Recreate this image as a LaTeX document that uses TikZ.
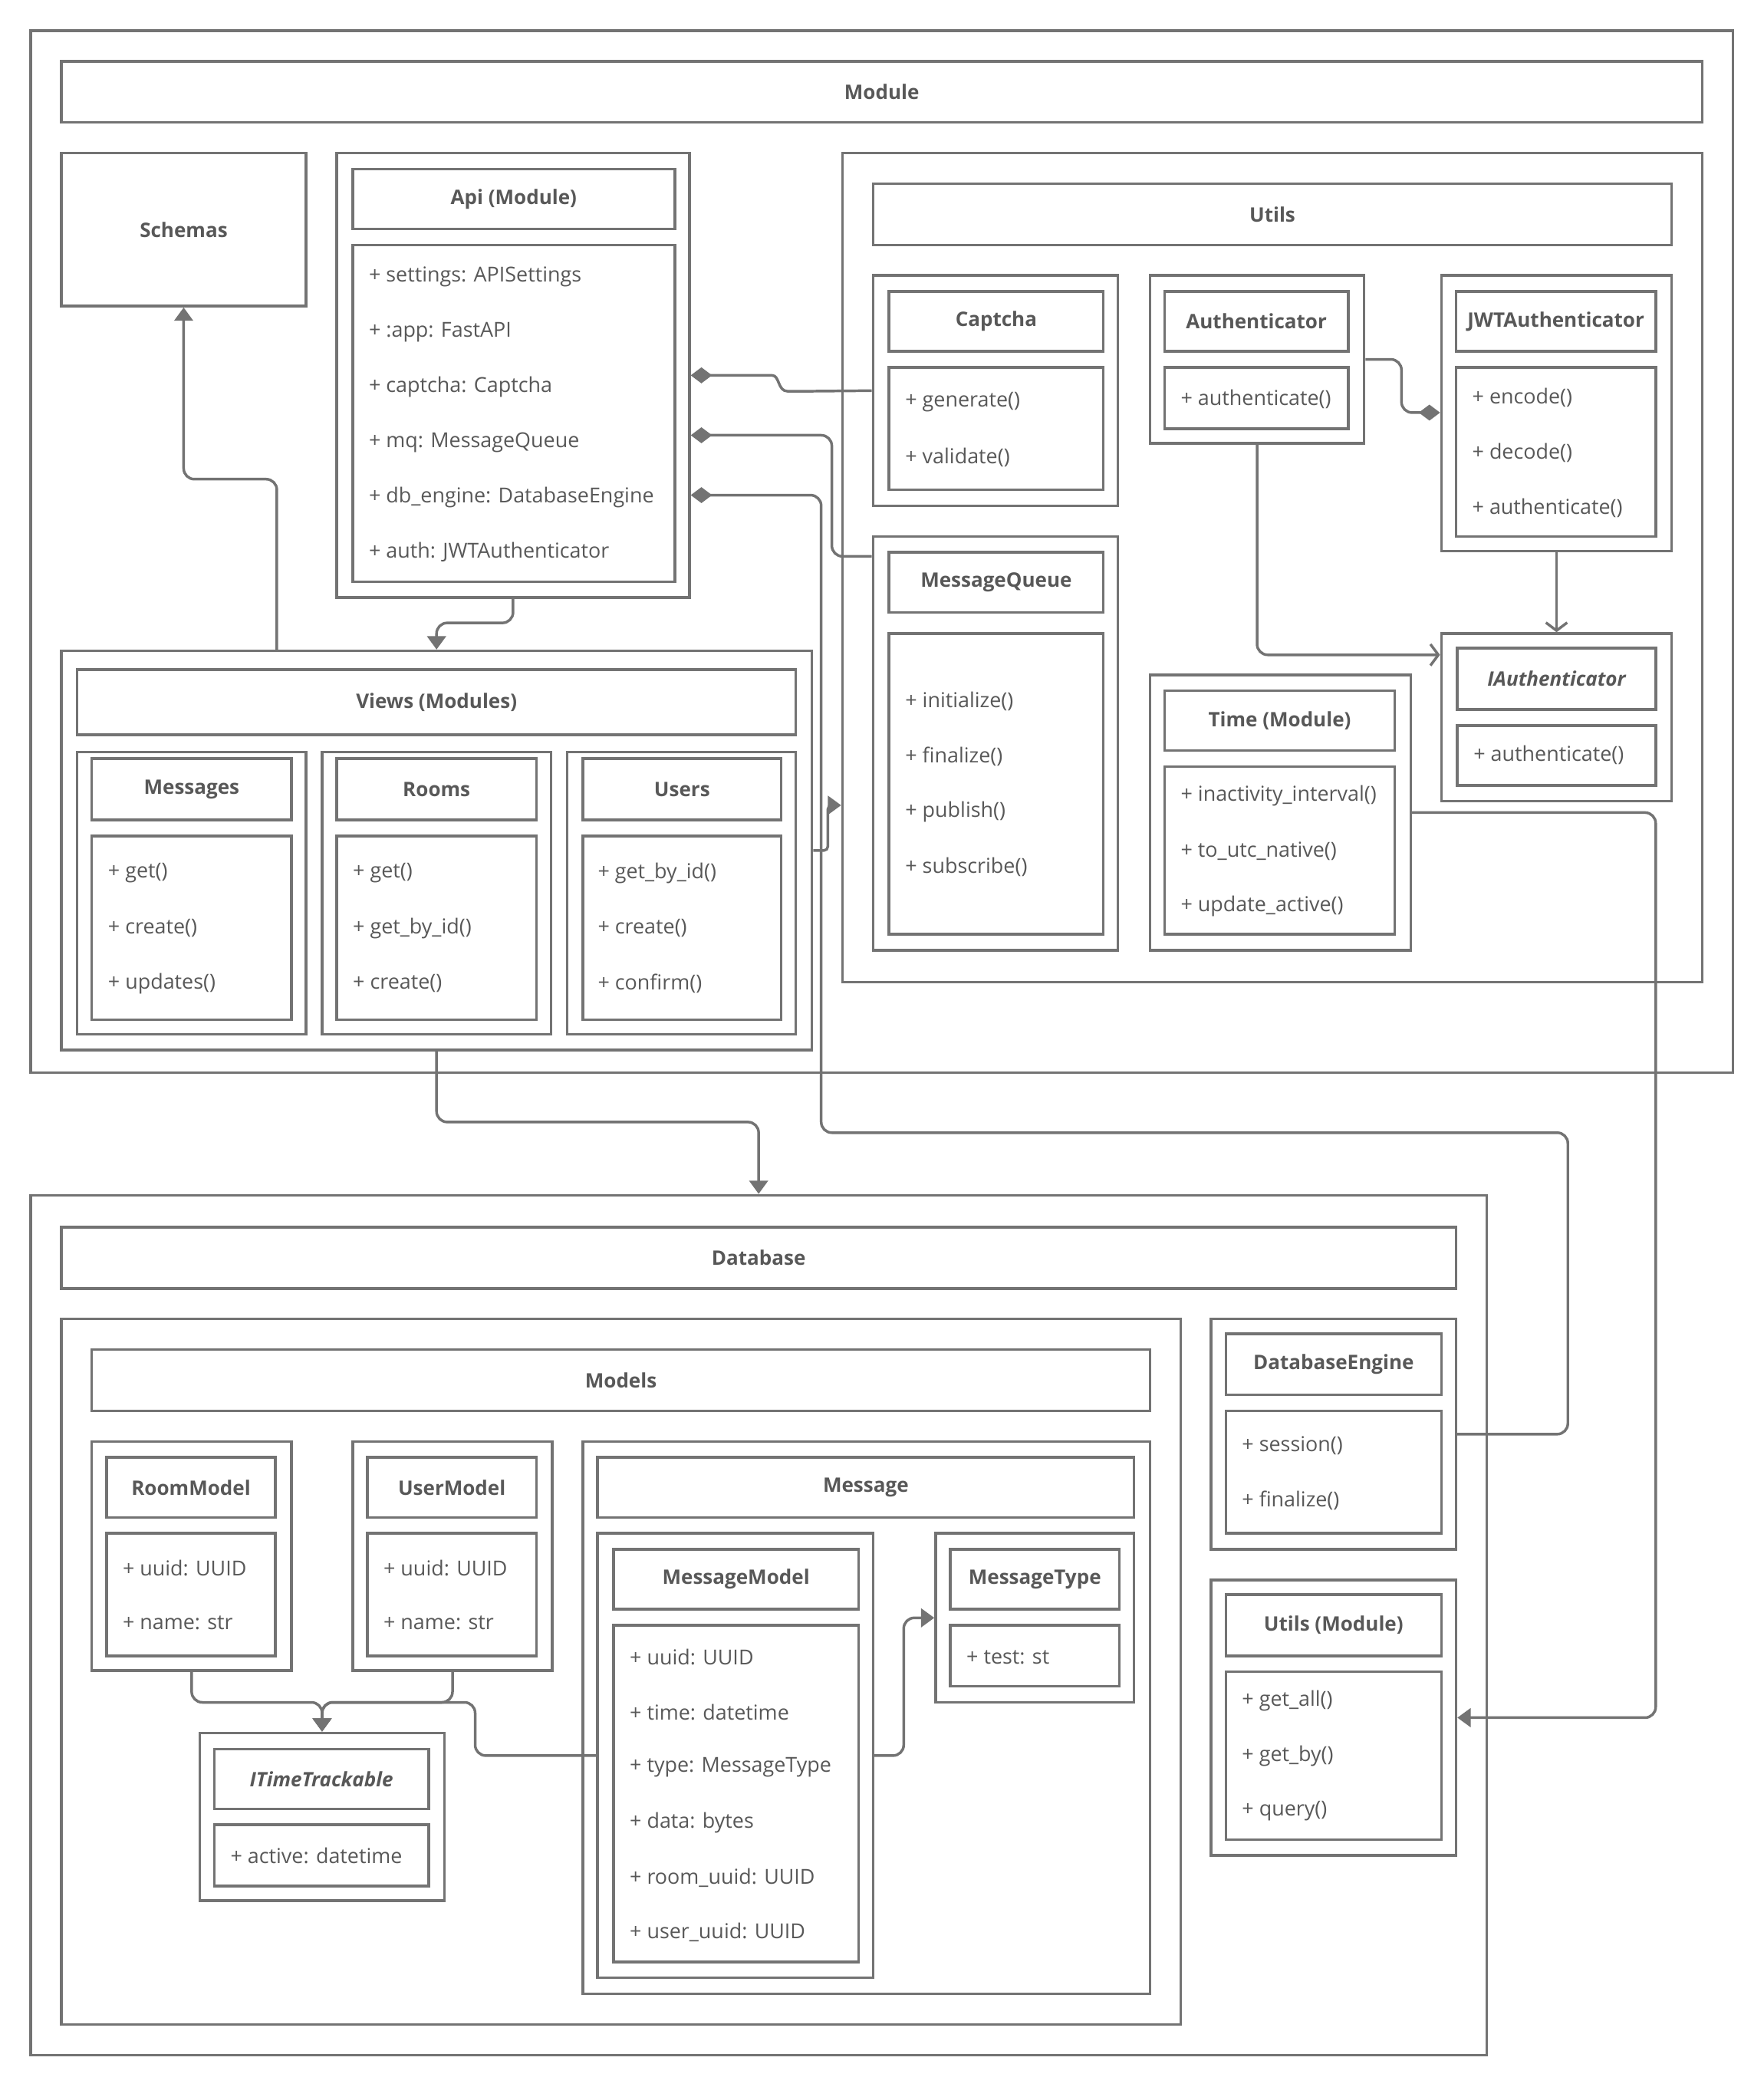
\documentclass[tikz,border=0pt]{standalone}
\usepackage{fontspec}
\setmainfont{Open Sans}
\usetikzlibrary{arrows.meta,fit,calc}
\definecolor{umlGray}{RGB}{115,115,115}
\definecolor{umlText}{RGB}{88,88,88}
\tikzset{
  frameBox/.style={draw=umlGray,line width=2pt,inner sep=0pt,fit={#1}},
  titleText/.style={font=\bfseries,text=umlText,inner sep=0pt},
  memberText/.style={anchor=west,inner sep=0pt,text=umlText,font=\fontsize{15.5}{18}\selectfont},
  umlLink/.style={draw=umlGray,line width=2pt,rounded corners=8pt},
  depArrow/.style={umlLink,-{Triangle[length=10pt,width=14pt]}},
  implArrow/.style={umlLink,-{Straight Barb[length=6pt,width=16pt,line width=2pt]}},
  compStart/.style={umlLink,{Diamond[length=16pt,width=12pt]}-},
  compEnd/.style={umlLink,-{Diamond[length=16pt,width=12pt]}},
}

\begin{document}
\fontsize{15}{18}\selectfont
\begin{tikzpicture}[x=1pt,y=-1pt]
  \useasboundingbox (0,0) rectangle (1325,1568);
  % Module
  \node[frameBox={(23,23) (1302,806)}](module){};
  \node[frameBox={(46,46) (1279,92)}](moduleT){};
  \node[frameBox={(46,115) (230,230)}](schemas){};
  % Api
  \node[frameBox={(253,115) (518,449)}](api){};
  \node[frameBox={(265,127) (507,172)}](apiT){};
  \node[frameBox={(265,184) (507,437)}](apiM){};
  \foreach \t [count=\i] in {+ settings: APISettings,+ :app: FastAPI,+ captcha: Captcha,
      + mq: MessageQueue,+ db\_engine: DatabaseEngine,+ auth: JWTAuthenticator}
    \node[memberText](apiM\i) at (277,{166.6+41.4*\i}){\t};
  % Utils
  \node[frameBox={(633,115) (1279,738)}](utils){};
  \node[frameBox={(656,138) (1256,184)}](utilsT){};
  \node[frameBox={(656,207) (840,380)}](captcha){};
  \node[frameBox={(668,219) (829,264)}](captchaT){};
  \node[frameBox={(668,276) (829,368)}](captchaM){};
  \foreach \t [count=\i] in {+ generate(),+ validate()}
    \node[memberText](captchaM\i) at (680,{260.6+41.4*\i}){\t};
  \node[frameBox={(656,403) (840,714)}](mq){};
  \node[frameBox={(668,415) (829,460)}](mqT){};
  \node[frameBox={(668,476) (829,702)}](mqM){};
  \foreach \t [count=\i] in {+ initialize(),+ finalize(),+ publish(),+ subscribe()}
    \node[memberText](mqM\i) at (680,{485.6+41.4*\i}){\t};
  \node[frameBox={(864,207) (1025,333)}](auth){};
  \node[frameBox={(875,219) (1013,264)}](authT){};
  \node[frameBox={(875,276) (1013,322)}](authM){};
  \node[memberText](authM1) at (887,300){+ authenticate()};
  \node[frameBox={(1083,207) (1256,414)}](jwt){};
  \node[frameBox={(1094,219) (1244,264)}](jwtT){};
  \node[frameBox={(1094,276) (1244,403)}](jwtM){};
  \foreach \t [count=\i] in {+ encode(),+ decode(),+ authenticate()}
    \node[memberText](jwtM\i) at (1106,{257.6+41.4*\i}){\t};
  \node[frameBox={(1083,476) (1256,602)}](iauth){};
  \node[frameBox={(1095,487) (1244,533)}](iauthT){};
  \node[frameBox={(1095,545) (1244,590)}](iauthM){};
  \node[memberText](iauthM1) at (1107,567){+ authenticate()};
  \node[frameBox={(864,507) (1060,714)}](time){};
  \node[frameBox={(875,519) (1048,564)}](timeT){};
  \node[frameBox={(875,576) (1048,702)}](timeM){};
  \foreach \t [count=\i] in {+ inactivity\_interval(),+ to\_utc\_native(),+ update\_active()}
    \node[memberText](timeM\i) at (887,{556.6+41.4*\i}){\t};
  % Views
  \node[frameBox={(46,489) (610,789)}](views){};
  \node[frameBox={(58,503) (598,552)}](viewsT){};
  \node[frameBox={(58,565) (230,777)}](messages){};
  \node[frameBox={(69,570) (219,616)}](messagesT){};
  \node[frameBox={(69,628) (219,766)}](messagesM){};
  \foreach \t [count=\i] in {+ get(),+ create(),+ updates()}
    \node[memberText](messagesM\i) at (81,{614.6+41.4*\i}){\t};
  \node[frameBox={(242,565) (414,777)}](rooms){};
  \node[frameBox={(253,570) (403,616)}](roomsT){};
  \node[frameBox={(253,628) (403,766)}](roomsM){};
  \foreach \t [count=\i] in {+ get(),+ get\_by\_id(),+ create()}
    \node[memberText](roomsM\i) at (265,{614.6+41.4*\i}){\t};
  \node[frameBox={(426,565) (598,777)}](users){};
  \node[frameBox={(438,570) (587,616)}](usersT){};
  \node[frameBox={(438,628) (587,766)}](usersM){};
  \foreach \t [count=\i] in {+ get\_by\_id(),+ create(),+ confirm()}
    \node[memberText](usersM\i) at (449,{614.6+41.4*\i}){\t};
  % Database
  \node[frameBox={(23,898) (1117,1544)}](database){};
  \node[frameBox={(46,922) (1094,968)}](databaseT){};
  \node[frameBox={(46,991) (887,1521)}](models){};
  \node[frameBox={(69,1014) (864,1060)}](modelsT){};
  \node[frameBox={(69,1083) (219,1255)}](roomModel){};
  \node[frameBox={(80,1095) (207,1140)}](roomModelT){};
  \node[frameBox={(80,1152) (207,1244)}](roomModelM){};
  \foreach \t [count=\i] in {+ uuid: UUID,+ name: str}
    \node[memberText](roomModelM\i) at (92,{1136.6+41.4*\i}){\t};
  \node[frameBox={(265,1083) (415,1255)}](userModel){};
  \node[frameBox={(276,1095) (403,1140)}](userModelT){};
  \node[frameBox={(276,1152) (403,1244)}](userModelM){};
  \foreach \t [count=\i] in {+ uuid: UUID,+ name: str}
    \node[memberText](userModelM\i) at (288,{1136.6+41.4*\i}){\t};
  \node[frameBox={(150,1302) (334,1428)}](itime){};
  \node[frameBox={(161,1314) (322,1359)}](itimeT){};
  \node[frameBox={(161,1371) (322,1417)}](itimeM){};
  \node[memberText](itimeM1) at (173,1394){+ active: datetime};
  \node[frameBox={(438,1083) (864,1498)}](message){};
  \node[frameBox={(449,1095) (852,1140)}](messageT){};
  \node[frameBox={(449,1152) (656,1486)}](msgModel){};
  \node[frameBox={(461,1164) (645,1209)}](msgModelT){};
  \node[frameBox={(461,1221) (645,1474)}](msgModelM){};
  \foreach \t [count=\i] in {+ uuid: UUID,+ time: datetime,+ type: MessageType,
      + data: bytes,+ room\_uuid: UUID,+ user\_uuid: UUID}
    \node[memberText](msgModelM\i) at (473,{1203.6+41.4*\i}){\t};
  \node[frameBox={(703,1152) (852,1279)}](msgType){};
  \node[frameBox={(714,1164) (841,1209)}](msgTypeT){};
  \node[frameBox={(714,1221) (841,1267)}](msgTypeM){};
  \node[memberText](msgTypeM1) at (726,1245){+ test: st};
  \node[frameBox={(910,991) (1094,1164)}](dbEngine){};
  \node[frameBox={(921,1002) (1083,1048)}](dbEngineT){};
  \node[frameBox={(921,1060) (1083,1152)}](dbEngineM){};
  \foreach \t [count=\i] in {+ session(),+ finalize()}
    \node[memberText](dbEngineM\i) at (933,{1044.6+41.4*\i}){\t};
  \node[frameBox={(910,1187) (1094,1394)}](dbUtils){};
  \node[frameBox={(921,1198) (1083,1244)}](dbUtilsT){};
  \node[frameBox={(921,1256) (1083,1382)}](dbUtilsM){};
  \foreach \t [count=\i] in {+ get\_all(),+ get\_by(),+ query()}
    \node[memberText](dbUtilsM\i) at (933,{1236.6+41.4*\i}){\t};
  % titles
  \foreach \n/\t in {moduleT/Module,schemas/Schemas,apiT/Api (Module),utilsT/Utils,
      captchaT/Captcha,mqT/MessageQueue,authT/Authenticator,jwtT/JWTAuthenticator,
      timeT/Time (Module),viewsT/Views (Modules),messagesT/Messages,roomsT/Rooms,
      usersT/Users,databaseT/Database,modelsT/Models,roomModelT/RoomModel,
      userModelT/UserModel,messageT/Message,msgModelT/MessageModel,
      msgTypeT/MessageType,dbEngineT/DatabaseEngine,dbUtilsT/Utils (Module)}
    \node[titleText](\n-txt) at (\n.center){\t};
  \node[titleText,font=\bfseries\itshape](iauthT-txt) at (iauthT.center){IAuthenticator};
  \node[titleText,font=\bfseries\itshape](itimeT-txt) at (itimeT.center){ITimeTrackable};
  % connectors
  \draw[depArrow](views.north -| 208,0) |- (138,360) -- (schemas.south);
  \draw[depArrow](api.south) |- (328,468) -- (views.north);
  \draw[depArrow](views.south) |- (570,843) -- (database.north);
  \draw[depArrow,rounded corners=3pt](views.east) -| (622,605) -- (utils.west |- 0,605);
  \draw[compStart](api.east) -- (572,282) .. controls (586,282) and (584,294) .. (600,294) -- (captcha.west);
  \draw[compStart](api.east |- 0,327) -| (625,418) -- (mq.west |- 0,418);
  \draw[compStart](api.east |- 0,372) -| (617,851) -| (1178,1077.5) -- (dbEngine.east);
  \draw[compEnd](auth.east) -| (1053,310) -- (jwt.west |- 0,310);
  \draw[implArrow](auth.south) |- (iauth.west |- 0,492);
  \draw[implArrow](jwt.south) -- (iauth.north);
  \draw[depArrow](time.east) -| (1244,1290.5) -- (dbUtils.east);
  \draw[depArrow](msgModel.east) -| (679,1215.5) -- (msgType.west);
  \draw[depArrow](roomModel.south) -- (144,1279) -| (itime.north);
  \draw[depArrow](userModel.south) -- (340,1279) -| (itime.north);
  \draw[depArrow](msgModel.west) -| (357,1279) -| (itime.north);
\end{tikzpicture}
\end{document}
